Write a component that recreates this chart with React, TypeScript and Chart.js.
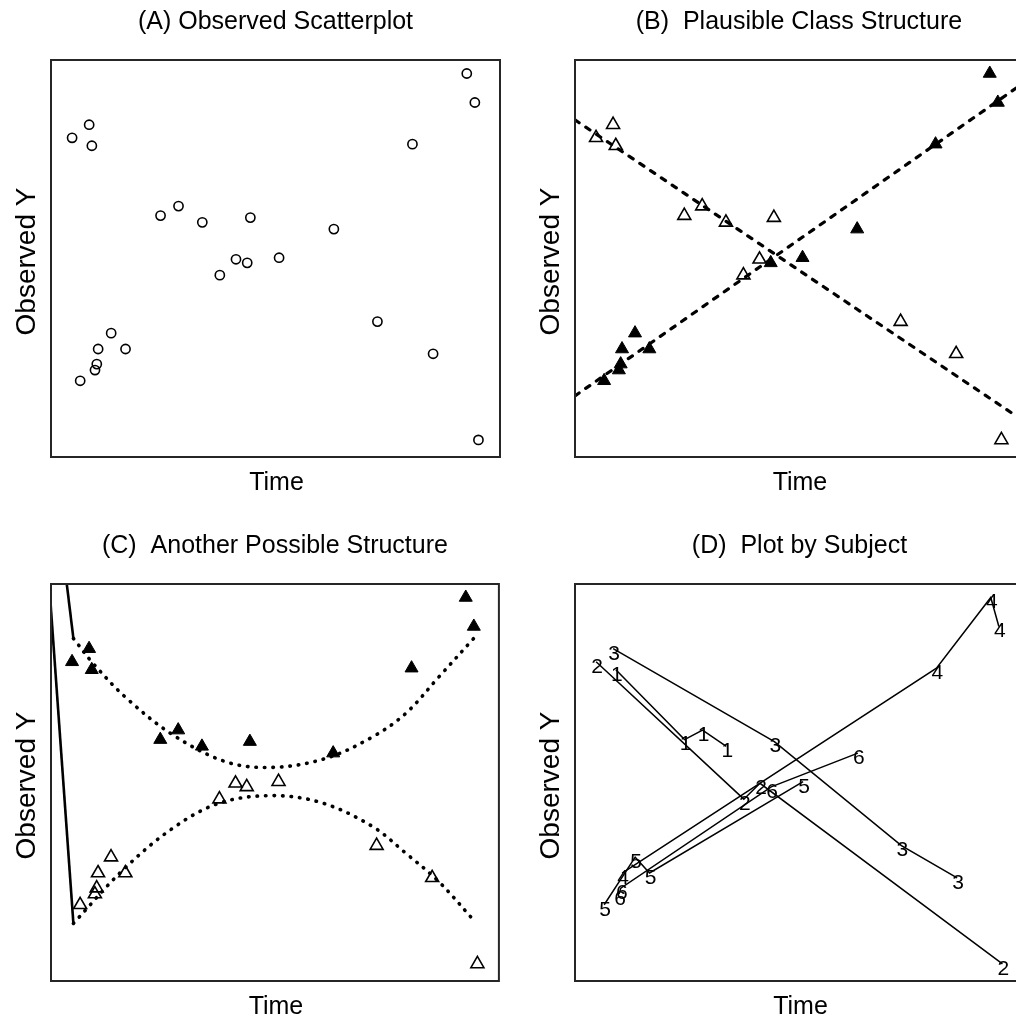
import React, { useEffect, useRef } from "react";
import { Chart, registerables } from "chart.js";

Chart.register(...registerables);

// ---------------- data (Time and Observed Y, arbitrary 0-10 units) ----------------
const subjectIds = ["1", "2", "3", "4", "5", "6"];

const timeS1 = [0.91, 2.44, 2.84, 3.37];
const yS1 = [7.84, 6.08, 6.32, 5.91];
const timeS2 = [0.47, 3.76, 4.12, 9.52];
const yS2 = [8.04, 4.58, 4.98, 0.43];
const timeS3 = [0.85, 4.44, 7.27, 8.51];
const yS3 = [8.37, 6.03, 3.41, 2.6];
const timeS4 = [1.05, 8.05, 9.26, 9.44];
const yS4 = [2.72, 7.88, 9.66, 8.93];
const timeS5 = [0.65, 1.34, 1.66, 5.08];
const yS5 = [1.92, 3.12, 2.72, 5.02];
const timeS6 = [0.98, 1.02, 4.37, 6.3];
const yS6 = [2.19, 2.34, 4.89, 5.74];

// Panel B: class of each subject
const classB = ["falling", "falling", "falling", "rising", "rising", "rising"];
const lineBTime = [0, 10];
const lineBFalling = [8.49, 0.92];
const lineBRising = [1.54, 9.41];

// Panel C: class of each observation (1 = filled / upper class)
const classCS1 = [1, 1, 1, 1];
const classCS2 = [1, 0, 0, 0];
const classCS3 = [1, 1, 0, 0];
const classCS4 = [0, 1, 1, 1];
const classCS5 = [0, 0, 0, 0];
const classCS6 = [0, 0, 0, 1];
const curveCUpperTime = [0.5, 0.94, 1.69, 2.72, 3.91, 4.95, 6.14, 7.18, 7.92, 8.66, 9.47];
const curveCUpper = [8.63, 8.0, 7.12, 6.2, 5.52, 5.38, 5.61, 6.15, 6.74, 7.66, 8.67];
const curveCLowerTime = [0.5, 1.61, 2.72, 3.76, 4.95, 6.07, 7.18, 7.92, 8.66, 9.47];
const curveCLower = [1.45, 2.8, 3.85, 4.48, 4.67, 4.48, 3.89, 3.22, 2.5, 1.49];
const solidCTime = [-0.5, 0.5];
const solidCUpper = [17.9, 8.63];
const solidCLower = [17.25, 1.45];

// Titles
const panelTitles = [
  "(A) Observed Scatterplot",
  "(B)  Plausible Class Structure",
  "(C)  Another Possible Structure",
  "(D)  Plot by Subject",
];
const xTitle = "Time";
const yTitle = "Observed Y";

// ---------------- helpers ----------------
const subjectTimes = [timeS1, timeS2, timeS3, timeS4, timeS5, timeS6];
const subjectValues = [yS1, yS2, yS3, yS4, yS5, yS6];
const classC = [classCS1, classCS2, classCS3, classCS4, classCS5, classCS6];

const pts = (xs: number[], ys: number[]) => xs.map((x, i) => ({ x, y: ys[i] }));
const allPoints = () => subjectTimes.flatMap((t, s) => pts(t, subjectValues[s]));

const FONT = '"Liberation Sans", Arial, Helvetica, sans-serif';
const W = 508;

const framePlugin = {
  id: "frame",
  afterDraw(chart: any, _args: any, opts: any) {
    const { ctx, chartArea: a } = chart;
    ctx.save();
    ctx.strokeStyle = "#262626";
    ctx.lineWidth = 2;
    ctx.strokeRect(a.left, a.top, a.right - a.left, a.bottom - a.top);
    ctx.fillStyle = "#000";
    ctx.textAlign = "center";
    ctx.textBaseline = "alphabetic";
    ctx.font = `25px ${FONT}`;
    const cx = (a.left + a.right) / 2;
    ctx.fillText(opts.title, cx, a.top - 31);
    ctx.font = `25px ${FONT}`;
    ctx.fillText(xTitle, cx + 1, a.bottom + 33);
    ctx.font = `28px ${FONT}`;
    ctx.translate(35, (a.top + a.bottom) / 2 + 3);
    ctx.rotate(-Math.PI / 2);
    ctx.fillText(yTitle, 0, 0);
    ctx.restore();
  },
};

const labelPlugin = {
  id: "subjectLabels",
  afterDatasetsDraw(chart: any) {
    const { ctx } = chart;
    ctx.save();
    ctx.fillStyle = "#000";
    ctx.font = `21px ${FONT}`;
    ctx.textAlign = "center";
    ctx.textBaseline = "middle";
    chart.data.datasets.forEach((ds: any, i: number) => {
      if (!ds.subjectLabel) return;
      const meta = chart.getDatasetMeta(i);
      meta.data.forEach((el: any) => {
        ctx.fillText(ds.subjectLabel, el.x + 1, el.y + 5);
      });
    });
    ctx.restore();
  },
};

function makeOptions(title: string, H: number) {
  return {
    responsive: false,
    maintainAspectRatio: false,
    animation: false,
    devicePixelRatio: 1,
    events: [],
    layout: { padding: { left: 51, top: 60, right: W - 500, bottom: H - 457 } },
    scales: {
      x: { type: "linear", display: false, min: 0, max: 10 },
      y: { type: "linear", display: false, min: 0, max: 10 },
    },
    plugins: {
      legend: { display: false },
      tooltip: { enabled: false },
      title: { display: false },
      frame: { title },
    },
  };
}

const openTri = {
  pointStyle: "triangle",
  pointRadius: 7.5,
  pointBorderWidth: 1.6,
  pointBorderColor: "#000",
  pointBackgroundColor: "rgba(0,0,0,0)",
  showLine: false,
};
const filledTri = {
  pointStyle: "triangle",
  pointRadius: 7.5,
  pointBorderWidth: 1,
  pointBorderColor: "#000",
  pointBackgroundColor: "#000",
  showLine: false,
};

function configA(H: number) {
  return {
    type: "scatter",
    data: {
      datasets: [
        {
          data: allPoints(),
          pointStyle: "circle",
          pointRadius: 4.6,
          pointBorderWidth: 1.6,
          pointBorderColor: "#000",
          pointBackgroundColor: "rgba(0,0,0,0)",
        },
      ],
    },
    options: makeOptions(panelTitles[0], H),
    plugins: [framePlugin],
  };
}

function configB(H: number) {
  const falling = subjectTimes.flatMap((t, s) => (classB[s] === "falling" ? pts(t, subjectValues[s]) : []));
  const rising = subjectTimes.flatMap((t, s) => (classB[s] === "rising" ? pts(t, subjectValues[s]) : []));
  const dashed = {
    showLine: true,
    pointRadius: 0,
    borderColor: "#000",
    borderWidth: 3.2,
    borderDash: [5, 8],
    borderCapStyle: "round",
  };
  return {
    type: "scatter",
    data: {
      datasets: [
        { ...dashed, data: pts(lineBTime, lineBFalling) },
        { ...dashed, data: pts(lineBTime, lineBRising) },
        { ...openTri, data: falling },
        { ...filledTri, data: rising },
      ],
    },
    options: makeOptions(panelTitles[1], H),
    plugins: [framePlugin],
  };
}

function configC(H: number) {
  const upper = subjectTimes.flatMap((t, s) => pts(t, subjectValues[s]).filter((_, i) => classC[s][i] === 1));
  const lower = subjectTimes.flatMap((t, s) => pts(t, subjectValues[s]).filter((_, i) => classC[s][i] === 0));
  const dotted = {
    showLine: true,
    pointRadius: 0,
    borderColor: "#000",
    borderWidth: 3.6,
    borderDash: [0.5, 8],
    borderCapStyle: "round",
    tension: 0.35,
  };
  const solid = { showLine: true, pointRadius: 0, borderColor: "#000", borderWidth: 2.6 };
  return {
    type: "scatter",
    data: {
      datasets: [
        { ...solid, data: pts(solidCTime, solidCUpper) },
        { ...solid, data: pts(solidCTime, solidCLower) },
        { ...dotted, data: pts(curveCUpperTime, curveCUpper) },
        { ...dotted, data: pts(curveCLowerTime, curveCLower) },
        { ...filledTri, data: upper },
        { ...openTri, data: lower },
      ],
    },
    options: makeOptions(panelTitles[2], H),
    plugins: [framePlugin],
  };
}

function configD(H: number) {
  return {
    type: "scatter",
    data: {
      datasets: subjectTimes.map((t, s) => ({
        data: pts(t, subjectValues[s]),
        subjectLabel: subjectIds[s],
        showLine: true,
        pointRadius: 0,
        borderColor: "#000",
        borderWidth: 1.5,
      })),
    },
    options: makeOptions(panelTitles[3], H),
    plugins: [framePlugin, labelPlugin],
  };
}

function Panel({ left, top, height, build }: { left: number; top: number; height: number; build: (h: number) => any }) {
  const ref = useRef<HTMLCanvasElement>(null);
  useEffect(() => {
    const chart = new Chart(ref.current as HTMLCanvasElement, build(height) as any);
    return () => chart.destroy();
  }, []);
  return (
    <canvas
      ref={ref}
      width={W}
      height={height}
      style={{ position: "absolute", left, top, width: W, height, display: "block" }}
    />
  );
}

export default function App() {
  return (
    <div
      style={{
        position: "fixed",
        left: 0,
        top: 0,
        width: 1016,
        height: 1021,
        overflow: "hidden",
        background: "#fff",
      }}
    >
      <Panel left={0} top={0} height={510} build={configA} />
      <Panel left={524} top={0} height={510} build={configB} />
      <Panel left={0} top={524} height={497} build={configC} />
      <Panel left={524} top={524} height={497} build={configD} />
    </div>
  );
}
